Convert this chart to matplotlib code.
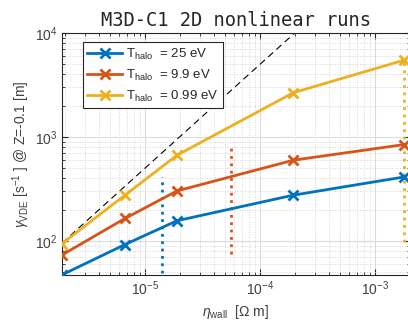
import matplotlib
matplotlib.use("Agg")
import matplotlib.pyplot as plt
import numpy as np
from matplotlib.ticker import LogLocator, NullFormatter

plt.rcParams['font.family'] = ['Liberation Sans', 'DejaVu Sans']
plt.rcParams['mathtext.fontset'] = 'custom'
plt.rcParams['mathtext.rm'] = 'Liberation Sans'
plt.rcParams['mathtext.it'] = 'Liberation Sans:italic'
plt.rcParams['mathtext.bf'] = 'Liberation Sans:bold'

# Data
eta_wall = [1.9e-6, 6.7e-6, 1.9e-5, 1.95e-4, 1.8e-3]
gamma_25 = [47, 92, 156, 275, 412]
gamma_9_9 = [73, 164, 302, 597, 845]
gamma_0_99 = [94, 275, 667, 2666, 5500]
labels = [r'T$_{\rm halo}$  = 25 eV', r'T$_{\rm halo}$  = 9.9 eV', r'T$_{\rm halo}$  = 0.99 eV']
colors = ['#0072BD', '#D95319', '#EDB120']

# vertical dotted markers: (x, ymin, ymax)
vline_x = [1.42e-5, 5.65e-5, 1.8e-3]
vline_ymin = [49, 74, 98]
vline_ymax = [410, 845, 5750]

# dashed reference line gamma ~ eta
ref_eta = [1.9e-6, 2.5e-4]
ref_coef = 5e7

fig = plt.figure(figsize=(4.08, 3.2), dpi=100)
ax = fig.add_axes([0.152, 0.1406, 0.852, 0.756])

for ys, c, lab in zip([gamma_25, gamma_9_9, gamma_0_99], colors, labels):
    ax.plot(eta_wall, ys, '-x', color=c, lw=2, ms=7, mew=2, label=lab, zorder=3)

for x, y0, y1, c in zip(vline_x, vline_ymin, vline_ymax, colors):
    ax.plot([x, x], [y0, y1], ':', color=c, lw=2, zorder=2)

ref_eta = np.array(ref_eta)
ax.plot(ref_eta, ref_coef * ref_eta, '--', color='black', lw=0.8, dashes=(6, 4), zorder=2)

ax.set_xscale('log')
ax.set_yscale('log')
ax.set_xlim(1.9e-6, 2.0e-3)
ax.set_ylim(46.8, 1e4)

ax.xaxis.set_major_locator(LogLocator(base=10, numticks=10))
ax.yaxis.set_major_locator(LogLocator(base=10, numticks=10))
ax.xaxis.set_minor_locator(LogLocator(base=10, subs=np.arange(2, 10), numticks=20))
ax.yaxis.set_minor_locator(LogLocator(base=10, subs=np.arange(2, 10), numticks=20))
ax.xaxis.set_minor_formatter(NullFormatter())
ax.yaxis.set_minor_formatter(NullFormatter())

ax.grid(True, which='major', color='#dcdcdc', lw=0.8, ls='-', zorder=0)
ax.grid(True, which='minor', color='#c8c8c8', lw=0.6, ls=(0, (1, 2)), zorder=0)
ax.set_axisbelow(True)

ax.tick_params(which='both', direction='in', top=True, right=True, colors='#262626',
               labelcolor='#404040', labelsize=10)
ax.tick_params(which='major', length=4, width=0.8)
ax.tick_params(which='minor', length=2, width=0.6)
for s in ax.spines.values():
    s.set_color('#262626')
    s.set_linewidth(0.8)

ax.set_xlabel(r'$\eta_{\rm wall}$  [$\Omega$ m]', fontsize=10, color='#404040', labelpad=3)
ax.set_ylabel(r'$\gamma_{\rm VDE}$ [s$^{-1}$ ] @ Z=-0.1 [m]', fontsize=10, color='#404040', labelpad=2)
ax.set_title('M3D-C1 2D nonlinear runs', fontsize=13.5, family='DejaVu Sans Mono', color='#262626', pad=5)

leg = ax.legend(loc='upper left', bbox_to_anchor=(0.06, 0.963), fontsize=9.5, frameon=True,
                fancybox=False, edgecolor='#262626', framealpha=1, handlelength=2.6,
                labelspacing=0.45, borderpad=0.35, handletextpad=0.3, borderaxespad=0)
leg.get_frame().set_linewidth(0.8)
for t in leg.get_texts():
    t.set_color('#262626')

fig.savefig('out.png', dpi=100)
